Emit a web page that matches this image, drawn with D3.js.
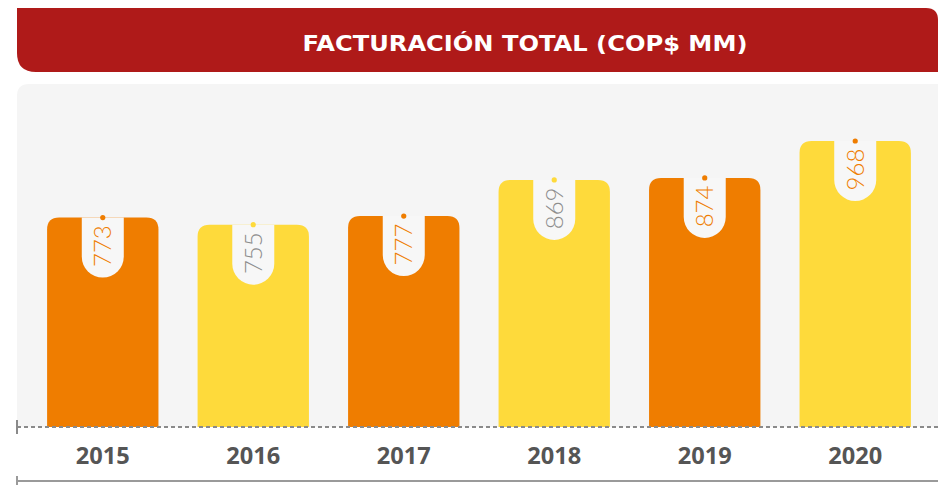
<!DOCTYPE html>
<html><head><meta charset="utf-8">
<script src="https://cdn.jsdelivr.net/npm/d3@7"></script>
<style>
html,body{margin:0;padding:0;background:#fff;}
svg{display:block;}
</style></head>
<body>
<svg id="chart" width="938" height="485"></svg>
<script>
const title = "FACTURACIÓN TOTAL (COP$ MM)";
const years = ["2015","2016","2017","2018","2019","2020"];
const values = [773, 755, 777, 869, 874, 968];
const barColorKeys = ["orange","yellow","orange","yellow","orange","yellow"];
const highlightYear = "2020";

const W = 938, H = 485;
const ORANGE = "#EF7D00", YELLOW = "#FEDA3B", GREY_TXT = "#8c8c8c";
const svg = d3.select("#chart");

// title banner
svg.append("path")
  .attr("d", `M17,8 H926 Q938,8 938,20 V72 H36 Q17,72 17,53 Z`)
  .attr("fill", "#AF1A19");
svg.append("text")
  .attr("x", 525).attr("y", 51)
  .attr("text-anchor", "middle")
  .attr("font-family", "DejaVu Sans, sans-serif")
  .attr("font-weight", 700)
  .attr("font-size", 21)
  .attr("textLength", 445)
  .attr("lengthAdjust", "spacingAndGlyphs")
  .attr("fill", "#fff")
  .text(title);

// panel
const baseY = 427;
svg.append("path")
  .attr("d", `M17,${baseY} V96 Q17,84 29,84 H938 V${baseY} Z`)
  .attr("fill", "#F5F5F5");

const x = d3.scaleBand().domain(years).range([17, 941]).paddingInner(0.26).paddingOuter(0.2);
const y = d3.scaleLinear().domain([240, 968]).range([baseY, 141]);

const data = years.map((yr, i) => ({year: yr, value: values[i], col: barColorKeys[i]}));
const r = 12;
const g = svg.append("g");
data.forEach(d => {
  const x0 = x(d.year), w = x.bandwidth(), top = y(d.value), cx = x0 + w/2;
  const fill = d.col === "orange" ? ORANGE : YELLOW;
  g.append("path")
    .attr("d", `M${x0},${baseY} V${top + r} Q${x0},${top} ${x0 + r},${top} H${x0 + w - r} Q${x0 + w},${top} ${x0 + w},${top + r} V${baseY} Z`)
    .attr("fill", fill);
  // tab cutout
  const tw = 42, th = 60;
  g.append("path")
    .attr("d", `M${cx - tw/2},${top} V${top + th - tw/2} A${tw/2},${tw/2} 0 0 0 ${cx + tw/2},${top + th - tw/2} V${top} Z`)
    .attr("fill", "#F7F7F7");
  const hl = d.col === "orange" || d.year === highlightYear;
  g.append("circle")
    .attr("cx", cx).attr("cy", top)
    .attr("r", 2.6)
    .attr("fill", hl ? ORANGE : YELLOW);
  g.append("text")
    .attr("transform", `translate(${cx + 8.5},${top + 28.5}) rotate(-90)`)
    .attr("text-anchor", "middle")
    .attr("font-family", "Lato, sans-serif")
    .attr("font-weight", 300)
    .attr("font-size", 24)
    .attr("fill", hl ? ORANGE : GREY_TXT)
    .text(d.value);
});

// dashed baseline
svg.append("line")
  .attr("x1", 17).attr("x2", W).attr("y1", baseY).attr("y2", baseY)
  .attr("stroke", "#8a8a8a").attr("stroke-width", 2).attr("stroke-dasharray", "4,3");
svg.append("line")
  .attr("x1", 17).attr("x2", 17).attr("y1", 420).attr("y2", 434)
  .attr("stroke", "#8a8a8a").attr("stroke-width", 2);

// year labels via axis
const axis = svg.append("g")
  .attr("transform", `translate(0,${baseY})`)
  .call(d3.axisBottom(x).tickSize(0).tickPadding(0));
axis.select(".domain").remove();
axis.selectAll("text")
  .attr("y", 37)
  .attr("dy", 0)
  .attr("font-family", "Open Sans, sans-serif")
  .attr("font-weight", 700)
  .attr("font-size", 24)
  .attr("textLength", 54)
  .attr("lengthAdjust", "spacingAndGlyphs")
  .attr("fill", "#555");

// bottom line
svg.append("line")
  .attr("x1", 17).attr("x2", W).attr("y1", 481).attr("y2", 481)
  .attr("stroke", "#9a9a9a").attr("stroke-width", 2);
svg.append("line")
  .attr("x1", 17).attr("x2", 17).attr("y1", 476).attr("y2", 485)
  .attr("stroke", "#9a9a9a").attr("stroke-width", 2);
</script>
</body></html>
